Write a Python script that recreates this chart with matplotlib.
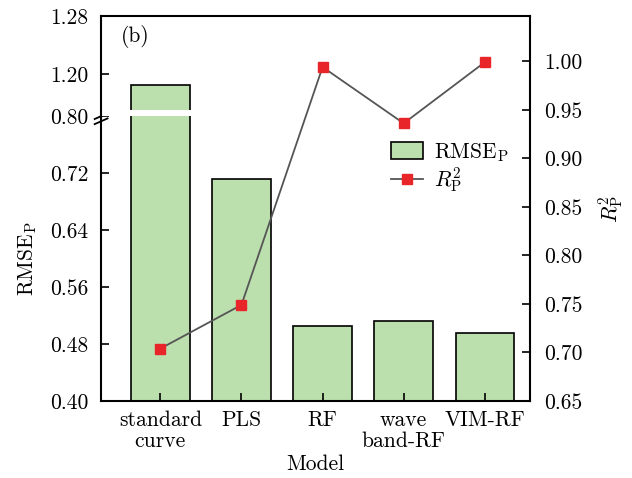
import numpy as np
import matplotlib.pyplot as plt
from matplotlib.patches import Rectangle
from matplotlib.lines import Line2D

plt.rcParams['font.family'] = ['cmr10', 'DejaVu Serif']
plt.rcParams['mathtext.fontset'] = 'cm'
plt.rcParams['axes.unicode_minus'] = False
plt.rcParams['axes.formatter.use_mathtext'] = True

models = ['standard\ncurve', 'PLS', 'RF', 'wave\nband-RF', 'VIM-RF']
rmse_p = [1.185, 0.712, 0.505, 0.512, 0.495]
r2_p = [0.704, 0.749, 0.994, 0.936, 0.999]

lower_ticks = [0.40, 0.48, 0.56, 0.64, 0.72, 0.80]
upper_ticks = [1.20, 1.28]
right_ticks = [0.65, 0.70, 0.75, 0.80, 0.85, 0.90, 0.95, 1.00]

bar_color = '#bcdfae'
fs = 15.5

fig = plt.figure(figsize=(6.32, 4.78), dpi=100)
left, width = 0.160, 0.679
axb = fig.add_axes([left, 0.161, width, 0.596])
axt = fig.add_axes([left, 0.757, width, 0.209], sharex=axb)
axr = fig.add_axes([left, 0.161, width, 0.805], sharex=axb)
axr.patch.set_visible(False)

x = np.arange(len(models))
for ax in (axb, axt):
    ax.bar(x, rmse_p, width=0.72, color=bar_color, edgecolor='black', linewidth=1.2)
    ax.tick_params(direction='in', length=6, width=1.2, labelsize=fs, pad=9)
    for s in ax.spines.values():
        s.set_linewidth(1.5)

axb.set_xlim(-0.73, 4.56)
axb.set_ylim(0.40, 0.80)
axb.set_yticks(lower_ticks)
axb.set_yticklabels(['%.2f' % t for t in lower_ticks])
axb.spines['top'].set_visible(False)
axb.spines['right'].set_visible(False)
axb.set_xticks(x)
axb.set_xticklabels(models, fontsize=fs, linespacing=1.05)
axb.tick_params(axis='x', pad=7)
axb.set_xlabel('Model', fontsize=fs, labelpad=3)
axb.set_ylabel(r'RMSE$_\mathrm{P}$', fontsize=fs, labelpad=8)

axt.set_ylim(1.142, 1.28)
axt.set_yticks(upper_ticks)
axt.set_yticklabels(['%.2f' % t for t in upper_ticks])
axt.spines['bottom'].set_visible(False)
axt.spines['right'].set_visible(False)
axt.tick_params(axis='x', bottom=False, labelbottom=False)
axt.add_patch(Rectangle((-0.45, 1.142), 0.9, 0.0085, facecolor='white',
                        edgecolor='none', zorder=3, clip_on=False))
axt.text(0.045, 0.74, '(b)', transform=axt.transAxes, fontsize=fs)

# break mark across the left spine
for dy in (-0.018, 0.0):
    axb.plot([-0.015, 0.015], [0.99 + dy, 1.01 + dy], color='black', lw=1.3,
             transform=axb.transAxes, clip_on=False, zorder=5)

axr.plot(x, r2_p, color='#555555', lw=1.3, marker='s', markersize=7,
         markerfacecolor='#e8262a', markeredgecolor='#e8262a', zorder=4)
axr.set_ylim(0.65, 1.0463)
axr.set_yticks(right_ticks)
axr.set_yticklabels(['%.2f' % t for t in right_ticks])
axr.yaxis.tick_right()
axr.yaxis.set_label_position('right')
axr.set_ylabel(r'$R^2_\mathrm{P}$', fontsize=fs, labelpad=10)
axr.tick_params(axis='y', direction='in', length=6, width=1.2, labelsize=fs, pad=10)
axr.tick_params(axis='x', bottom=False, labelbottom=False)
for k in ('left', 'bottom', 'top'):
    axr.spines[k].set_visible(False)
axr.spines['right'].set_linewidth(1.5)

handles = [Rectangle((0, 0), 1, 1, facecolor=bar_color, edgecolor='black', lw=1.2),
           Line2D([], [], color='#555555', lw=1.3, marker='s', markersize=7,
                  markerfacecolor='#e8262a', markeredgecolor='#e8262a')]
axr.legend(handles, [r'RMSE$_\mathrm{P}$', r'$R^2_\mathrm{P}$'], loc='upper left',
           bbox_to_anchor=(0.64, 0.715), frameon=False, fontsize=fs,
           handlelength=1.5, handleheight=0.8, handletextpad=0.5, borderpad=0.2,
           labelspacing=0.1)

fig.savefig('out.png', dpi=100)
